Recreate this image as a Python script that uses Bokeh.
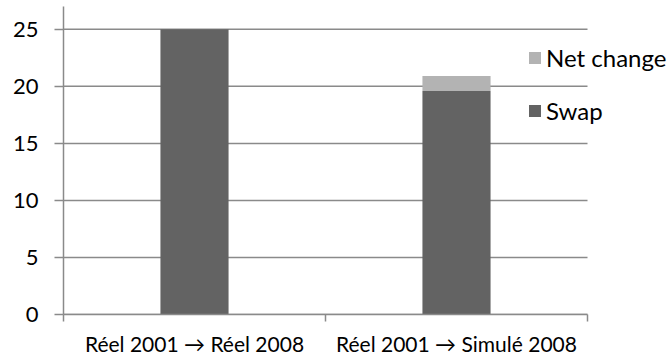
from bokeh.plotting import figure
from bokeh.models import ColumnDataSource, FixedTicker, Range1d, Legend, LegendItem
from bokeh.embed import file_html
from bokeh.resources import INLINE

categories = ["Réel 2001 → Réel 2008", "Réel 2001 → Simulé 2008"]
swap = [25.0, 19.6]
net_change = [0.0, 1.3]
y_ticks = [0, 5, 10, 15, 20, 25]

n = len(categories)
xs = [i + 0.5 for i in range(n)]
src = ColumnDataSource(dict(x=xs, swap=swap, net=net_change))

FONT = "Lato"
GRID = "#8a8a8a"

p = figure(width=672, height=358, output_backend="svg", toolbar_location=None,
           x_range=Range1d(0, n * 609 / 524), y_range=Range1d(0, 27.0),
           min_border_left=63, min_border_right=0, min_border_top=6, min_border_bottom=43)
p.outline_line_color = None

# horizontal gridlines, limited to the category span
p.segment(x0=[0] * len(y_ticks), x1=[n] * len(y_ticks), y0=y_ticks, y1=y_ticks,
          line_color=GRID, line_width=1.5)

r = p.vbar_stack(["swap", "net"], x="x", width=0.26, source=src,
                 color=["#636363", "#b3b3b3"], line_color=None)

# x axis
p.xaxis.bounds = (0, n)
p.xaxis.ticker = FixedTicker(ticks=xs, minor_ticks=list(range(n + 1)))
p.xaxis.major_label_overrides = {x: c for x, c in zip(xs, categories)}
p.xaxis.major_tick_out = 0
p.xaxis.major_tick_in = 0
p.xaxis.minor_tick_out = 7
p.xaxis.minor_tick_in = 0
p.xaxis.minor_tick_line_color = GRID
p.xaxis.minor_tick_line_width = 1.5
p.xaxis.axis_line_color = GRID
p.xaxis.axis_line_width = 1.5
p.xaxis.major_label_text_font = FONT
p.xaxis.major_label_text_font_size = "21px"
p.xaxis.major_label_text_color = "#000000"
p.xaxis.major_label_standoff = 9

# y axis
p.yaxis.ticker = FixedTicker(ticks=y_ticks)
p.yaxis.minor_tick_line_color = None
p.yaxis.major_tick_out = 9
p.yaxis.major_tick_in = 0
p.yaxis.major_tick_line_color = GRID
p.yaxis.major_tick_line_width = 1.5
p.yaxis.axis_line_color = GRID
p.yaxis.axis_line_width = 1.5
p.yaxis.major_label_text_font = FONT
p.yaxis.major_label_text_font_size = "22px"
p.yaxis.major_label_text_color = "#000000"
p.yaxis.major_label_standoff = 16

p.xgrid.grid_line_color = None
p.ygrid.grid_line_color = None

legend = Legend(items=[LegendItem(label="Net change", renderers=[r[1]]),
                       LegendItem(label="Swap", renderers=[r[0]])],
                location=(464, 189), orientation="vertical",
                glyph_width=15, glyph_height=15, label_height=20,
                spacing=24, padding=0, margin=0, label_standoff=4,
                border_line_color=None, background_fill_alpha=0,
                label_text_font=FONT, label_text_font_size="24px",
                label_text_color="#000000")
p.add_layout(legend, "center")

open("out.html", "w").write(file_html(p, INLINE))
